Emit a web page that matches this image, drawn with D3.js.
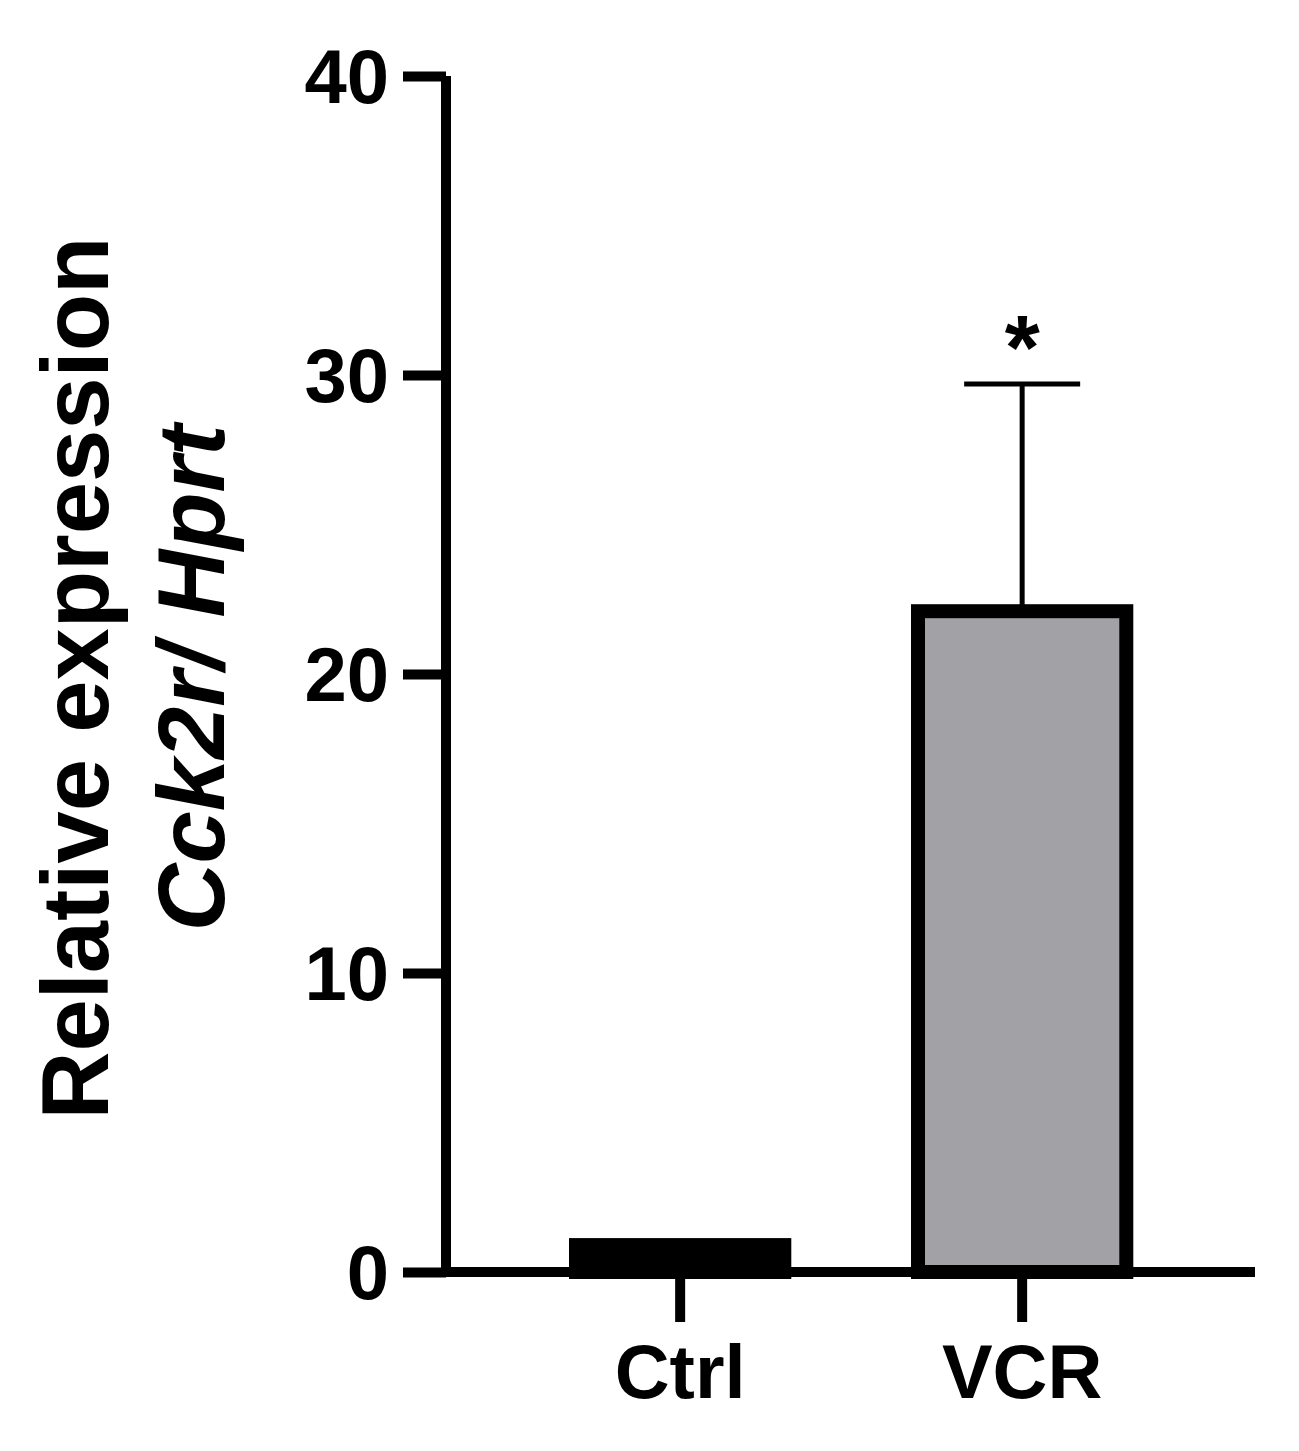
<!DOCTYPE html>
<html><head><meta charset="utf-8">
<script src="https://cdn.jsdelivr.net/npm/d3@7"></script>
<style>body{margin:0;background:#fff}text{font-family:"Liberation Sans",Arial,sans-serif;font-weight:bold}</style>
</head><body>
<svg id="chart" width="1299" height="1451"></svg>
<script>
// data
var groups = ["Ctrl", "VCR"];
var means = [0.9, 22.1];
var errs = [0.1, 7.6];
var yTicks = [0, 10, 20, 30, 40];

var svg = d3.select("#chart");
var y = d3.scaleLinear().domain([0, 40]).range([1272, 76]);
var x = d3.scaleBand().domain(groups).range([398, 1304.3]).paddingInner(0.35).paddingOuter(0.5);

// bars
svg.selectAll("rect.bar").data(groups).enter().append("rect")
    .attr("x", d => x(d) + 7)
    .attr("y", (d, i) => y(means[i]))
    .attr("width", x.bandwidth() - 14)
    .attr("height", (d, i) => y(0) - y(means[i]))
    .attr("fill", (d, i) => i == 0 ? "#000" : "#a2a1a6")
    .attr("stroke", "#000").attr("stroke-width", 14);

// error bars
groups.forEach(function(g, i) {
    var cx = x(g) + x.bandwidth() / 2;
    svg.append("line").attr("x1", cx).attr("x2", cx)
        .attr("y1", y(means[i])).attr("y2", y(means[i] + errs[i]))
        .attr("stroke", "#000").attr("stroke-width", 5);
    svg.append("line").attr("x1", cx - 58).attr("x2", cx + 58)
        .attr("y1", y(means[i] + errs[i])).attr("y2", y(means[i] + errs[i]))
        .attr("stroke", "#000").attr("stroke-width", 5);
});
svg.append("text").attr("x", x("VCR") + x.bandwidth() / 2).attr("y", y(29.7) - 5)
    .attr("text-anchor", "middle").attr("font-size", 90).text("*");

// y axis
var yAxis = svg.append("g").attr("transform", "translate(446,0)")
    .call(d3.axisLeft(y).tickValues(yTicks).tickSize(43).tickPadding(14));
yAxis.select(".domain").attr("stroke-width", 10).attr("d", "M0,76V1272");
yAxis.selectAll(".tick line").attr("stroke-width", 10);
yAxis.selectAll("text").attr("font-size", 76).attr("dy", "0.35em").attr("fill", "#000");

// x axis
var xAxis = svg.append("g").attr("transform", "translate(0,1272)")
    .call(d3.axisBottom(x).tickSize(50).tickPadding(22));
xAxis.select(".domain").attr("stroke-width", 10).attr("d", "M441,0H1255");
xAxis.selectAll(".tick line").attr("stroke-width", 10);
xAxis.selectAll("text").attr("font-size", 76).attr("fill", "#000");

// y title
var t = svg.append("text").attr("transform", "translate(108,678) rotate(-90)")
    .attr("text-anchor", "middle").attr("font-size", 94);
t.append("tspan").attr("x", 0).attr("dy", 0).text("Relative expression");
t.append("tspan").attr("x", 0).attr("dy", 116).attr("font-style", "italic").text("Cck2r/ Hprt");
</script>
</body></html>
